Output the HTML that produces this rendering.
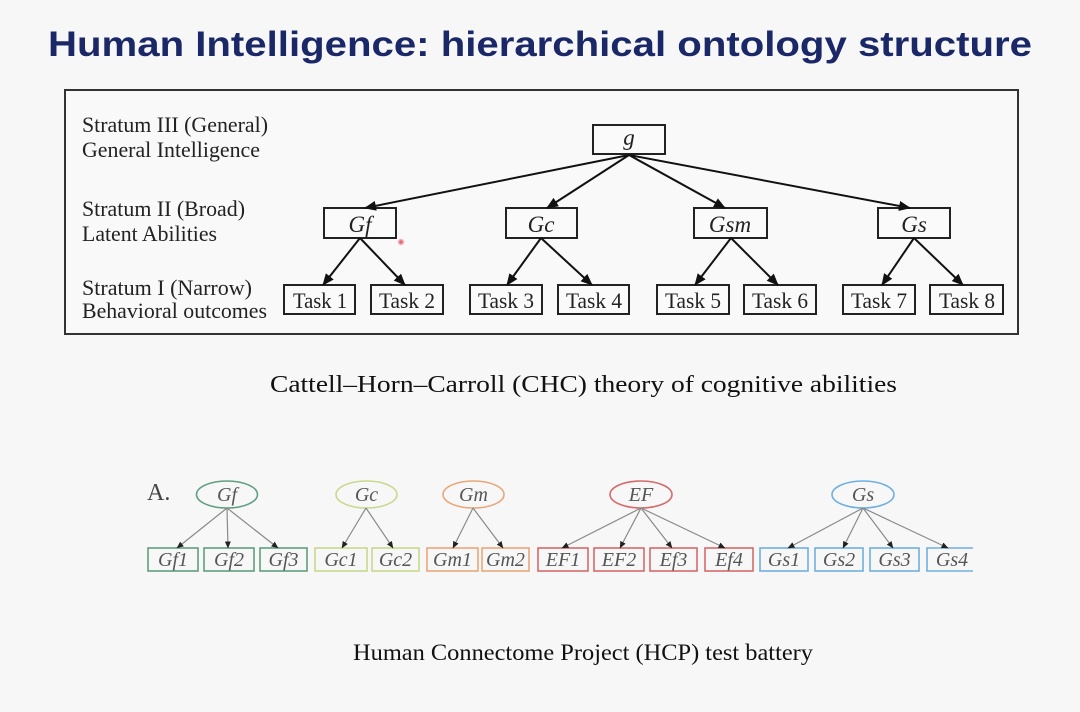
<!DOCTYPE html>
<html><head><meta charset="utf-8"><style>
html,body{margin:0;padding:0;background:#f7f7f8;}
svg{display:block;}
</style></head><body>
<svg width="1080" height="712" viewBox="0 0 1080 712" xmlns="http://www.w3.org/2000/svg">
<defs>
<marker id="ah" markerUnits="userSpaceOnUse" markerWidth="12" markerHeight="10" refX="11" refY="5" orient="auto">
<path d="M0,0 L12,5 L0,10 Z" fill="#111"/>
</marker>
<marker id="sh" markerUnits="userSpaceOnUse" markerWidth="7" markerHeight="6" refX="6.5" refY="3" orient="auto">
<path d="M0,0 L7,3 L0,6 Z" fill="#222"/>
</marker>
</defs>
<rect width="1080" height="712" fill="#f7f7f8"/>
<text x="48" y="56" font-family="Liberation Sans, sans-serif" font-weight="bold" font-size="35" fill="#1b2868" textLength="984" lengthAdjust="spacingAndGlyphs">Human Intelligence: hierarchical ontology structure</text>

<rect x="65" y="90" width="953" height="244" fill="#f9f9f9" stroke="#333" stroke-width="2"/>

<g font-family="Liberation Serif, serif" font-size="22" fill="#222">
<text x="82" y="132" textLength="186" lengthAdjust="spacingAndGlyphs">Stratum III (General)</text>
<text x="82" y="157" textLength="178" lengthAdjust="spacingAndGlyphs">General Intelligence</text>
<text x="82" y="216" textLength="163" lengthAdjust="spacingAndGlyphs">Stratum II (Broad)</text>
<text x="82" y="241" textLength="135" lengthAdjust="spacingAndGlyphs">Latent Abilities</text>
<text x="82" y="295" textLength="170" lengthAdjust="spacingAndGlyphs">Stratum I (Narrow)</text>
<text x="82" y="318" textLength="185" lengthAdjust="spacingAndGlyphs">Behavioral outcomes</text>
</g>

<g fill="#fafafa" stroke="#222" stroke-width="2">
<rect x="593" y="125" width="72" height="29"/>
<rect x="324" y="208" width="72" height="30"/>
<rect x="506" y="208" width="71" height="30"/>
<rect x="694" y="208" width="73" height="30"/>
<rect x="878" y="208" width="72" height="30"/>
<rect x="284" y="285" width="71" height="29"/>
<rect x="371" y="285" width="72" height="29"/>
<rect x="470" y="285" width="72" height="29"/>
<rect x="558" y="285" width="71" height="29"/>
<rect x="657" y="285" width="72" height="29"/>
<rect x="744" y="285" width="72" height="29"/>
<rect x="843" y="285" width="72" height="29"/>
<rect x="930" y="285" width="73" height="29"/>
</g>

<g stroke="#111" stroke-width="2" marker-end="url(#ah)">
<line x1="629" y1="155" x2="365" y2="208"/>
<line x1="629" y1="155" x2="547" y2="208"/>
<line x1="629" y1="155" x2="725" y2="208"/>
<line x1="629" y1="155" x2="910" y2="208"/>
<line x1="360" y1="238" x2="323" y2="285"/>
<line x1="360" y1="238" x2="405" y2="285"/>
<line x1="541" y1="238" x2="507" y2="285"/>
<line x1="541" y1="238" x2="592" y2="285"/>
<line x1="731" y1="238" x2="695" y2="285"/>
<line x1="731" y1="238" x2="778" y2="285"/>
<line x1="914" y1="238" x2="882" y2="285"/>
<line x1="914" y1="238" x2="963" y2="285"/>
</g>

<g font-family="Liberation Serif, serif" font-style="italic" font-size="23" fill="#222" text-anchor="middle">
<text x="629" y="145">g</text>
<text x="360" y="232">Gf</text>
<text x="541" y="232">Gc</text>
<text x="730" y="232">Gsm</text>
<text x="914" y="232">Gs</text>
</g>
<g font-family="Liberation Serif, serif" font-size="22" fill="#222" text-anchor="middle">
<text x="320" y="308" textLength="54" lengthAdjust="spacingAndGlyphs">Task 1</text>
<text x="407" y="308" textLength="56" lengthAdjust="spacingAndGlyphs">Task 2</text>
<text x="506" y="308" textLength="56" lengthAdjust="spacingAndGlyphs">Task 3</text>
<text x="594" y="308" textLength="56" lengthAdjust="spacingAndGlyphs">Task 4</text>
<text x="693" y="308" textLength="56" lengthAdjust="spacingAndGlyphs">Task 5</text>
<text x="780" y="308" textLength="56" lengthAdjust="spacingAndGlyphs">Task 6</text>
<text x="879" y="308" textLength="56" lengthAdjust="spacingAndGlyphs">Task 7</text>
<text x="967" y="308" textLength="56" lengthAdjust="spacingAndGlyphs">Task 8</text>
</g>

<circle cx="401" cy="242" r="2.5" fill="#e46a7a" stroke="#f3b3bb" stroke-width="1.5"/>

<text x="270" y="392" font-family="Liberation Serif, serif" font-size="24.5" fill="#111" textLength="627" lengthAdjust="spacingAndGlyphs">Cattell–Horn–Carroll (CHC) theory of cognitive abilities</text>

<!-- bottom diagram -->
<text x="147" y="500" font-family="Liberation Serif, serif" font-size="24" fill="#444">A.</text>

<g fill="none" stroke-width="1.6">
<ellipse cx="227" cy="494.5" rx="30.5" ry="13.5" stroke="#5f9f7e"/>
<ellipse cx="366.5" cy="494.5" rx="30.5" ry="13.5" stroke="#c8d98c"/>
<ellipse cx="473.5" cy="494.5" rx="30.5" ry="13.5" stroke="#e9a779"/>
<ellipse cx="641" cy="494.5" rx="31" ry="13.5" stroke="#d56b6b"/>
<ellipse cx="863" cy="494.5" rx="31" ry="13.5" stroke="#6fb0e0"/>

<g stroke="#5f9f7e">
<rect x="148" y="548" width="50" height="23"/>
<rect x="204" y="548" width="50" height="23"/>
<rect x="260" y="548" width="47" height="23"/>
</g>
<g stroke="#c8d98c">
<rect x="315" y="548" width="52" height="23"/>
<rect x="372" y="548" width="47" height="23"/>
</g>
<g stroke="#e9a779">
<rect x="427" y="548" width="51" height="23"/>
<rect x="482" y="548" width="47" height="23"/>
</g>
<g stroke="#d56b6b">
<rect x="538" y="548" width="50" height="23"/>
<rect x="594" y="548" width="50" height="23"/>
<rect x="650" y="548" width="47" height="23"/>
<rect x="705" y="548" width="48" height="23"/>
</g>
<g stroke="#6fb0e0">
<rect x="760" y="548" width="48" height="23"/>
<rect x="815" y="548" width="48" height="23"/>
<rect x="870" y="548" width="49" height="23"/>
<path d="M973,548 L927,548 L927,571 L973,571"/>
</g>
</g>

<g stroke="#8a8a8a" stroke-width="1.2" marker-end="url(#sh)">
<line x1="227" y1="508" x2="177" y2="548"/>
<line x1="227" y1="508" x2="228" y2="548"/>
<line x1="227" y1="508" x2="278" y2="548"/>
<line x1="366" y1="508" x2="342" y2="548"/>
<line x1="366" y1="508" x2="393" y2="548"/>
<line x1="473" y1="508" x2="453" y2="548"/>
<line x1="473" y1="508" x2="503" y2="548"/>
<line x1="641" y1="508" x2="562" y2="548"/>
<line x1="641" y1="508" x2="620" y2="548"/>
<line x1="641" y1="508" x2="672" y2="548"/>
<line x1="641" y1="508" x2="725" y2="548"/>
<line x1="863" y1="508" x2="788" y2="548"/>
<line x1="863" y1="508" x2="843" y2="548"/>
<line x1="863" y1="508" x2="893" y2="548"/>
<line x1="863" y1="508" x2="948" y2="548"/>
</g>

<g font-family="Liberation Serif, serif" font-style="italic" font-size="20" fill="#555" text-anchor="middle">
<text x="227" y="501">Gf</text>
<text x="366.5" y="501">Gc</text>
<text x="473.5" y="501">Gm</text>
<text x="641" y="501">EF</text>
<text x="863" y="501">Gs</text>
<text x="173" y="566">Gf1</text>
<text x="229" y="566">Gf2</text>
<text x="283.5" y="566">Gf3</text>
<text x="341" y="566">Gc1</text>
<text x="395.5" y="566">Gc2</text>
<text x="452.5" y="566">Gm1</text>
<text x="505.5" y="566">Gm2</text>
<text x="563" y="566">EF1</text>
<text x="619" y="566">EF2</text>
<text x="673.5" y="566">Ef3</text>
<text x="729" y="566">Ef4</text>
<text x="784" y="566">Gs1</text>
<text x="839" y="566">Gs2</text>
<text x="894.5" y="566">Gs3</text>
<text x="952" y="566">Gs4</text>
</g>

<text x="353" y="660" font-family="Liberation Serif, serif" font-size="23.5" fill="#111" textLength="460" lengthAdjust="spacingAndGlyphs">Human Connectome Project (HCP) test battery</text>
</svg>
</body></html>
